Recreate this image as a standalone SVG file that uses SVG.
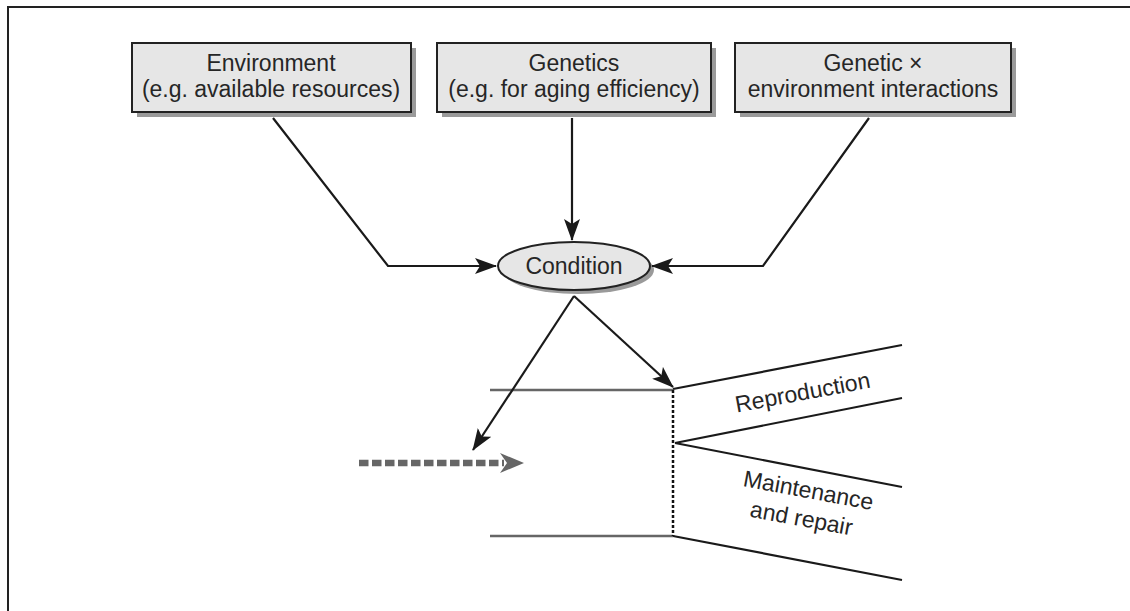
<svg xmlns="http://www.w3.org/2000/svg" width="1130" height="611" viewBox="0 0 1130 611">
  <style>
    .box { fill: #e6e6e6; stroke: #222; stroke-width: 2; }
    .shadow { fill: #9a9a9a; }
    .lbl { font-family: "Liberation Sans", Arial, sans-serif; font-size: 23px; fill: #262626; text-anchor: middle; }
    .conn { fill: none; stroke: #1a1a1a; stroke-width: 2.2; }
    .branch { fill: none; stroke: #1a1a1a; stroke-width: 2.2; }
  </style>
  <defs>
    <marker id="arrow" markerUnits="userSpaceOnUse" markerWidth="24" markerHeight="18" refX="21" refY="8" orient="auto">
      <path d="M0,0 L22,8 L0,16 L5,8 z" fill="#1a1a1a"/>
    </marker>
    <marker id="grayArrow" markerUnits="userSpaceOnUse" markerWidth="26" markerHeight="22" refX="4" refY="10" orient="auto">
      <path d="M0,0 L24,10 L0,20 L7,10 z" fill="#666"/>
    </marker>
  </defs>

  <rect width="1130" height="611" fill="#fff"/>
  <!-- outer frame (left and top edges) -->
  <path d="M8,611 L8,7 L1130,7" fill="none" stroke="#222" stroke-width="2"/>

  <g id="environment">
    <rect class="shadow" x="137" y="48" width="279" height="69"/>
    <rect class="box" x="132" y="43" width="279" height="69"/>
    <text class="lbl" x="271" y="71">Environment</text>
    <text class="lbl" x="271" y="97">(e.g. available resources)</text>
  </g>

  <g id="genetics">
    <rect class="shadow" x="442" y="48" width="274" height="69"/>
    <rect class="box" x="437" y="43" width="274" height="69"/>
    <text class="lbl" x="574" y="71">Genetics</text>
    <text class="lbl" x="574" y="97">(e.g. for aging efficiency)</text>
  </g>

  <g id="gxe">
    <rect class="shadow" x="740" y="48" width="276" height="69"/>
    <rect class="box" x="735" y="43" width="276" height="69"/>
    <text class="lbl" x="873" y="71">Genetic ×</text>
    <text class="lbl" x="873" y="97">environment interactions</text>
  </g>

  <g id="condition">
    <ellipse class="shadow" cx="578" cy="270" rx="76" ry="24"/>
    <ellipse cx="574" cy="266" rx="76" ry="24" fill="#e6e6e6" stroke="#222" stroke-width="2"/>
    <text class="lbl" x="574" y="274">Condition</text>
  </g>

  <g id="allocation">
    <!-- incoming resource pool -->
    <line x1="490" y1="390" x2="673" y2="390" stroke="#666" stroke-width="2.5"/>
    <line x1="490" y1="536" x2="673" y2="536" stroke="#666" stroke-width="2.5"/>
    <line x1="673" y1="390" x2="673" y2="536" stroke="#111" stroke-width="2.5" stroke-dasharray="3,2"/>
    <!-- branches -->
    <line class="branch" x1="673" y1="389" x2="902" y2="345"/>
    <line class="branch" x1="675" y1="443" x2="902" y2="398"/>
    <line class="branch" x1="675" y1="443" x2="902" y2="487"/>
    <line class="branch" x1="673" y1="536" x2="902" y2="580"/>
    <text class="lbl" transform="translate(804,400) rotate(-10.5)">Reproduction</text>
    <text class="lbl" transform="translate(807,498) rotate(10.5)">Maintenance</text>
    <text class="lbl" transform="translate(800,526) rotate(10.5)">and repair</text>
  </g>

  <g id="connectors">
    <path class="conn" d="M273,118 L388,266 L496,266" marker-end="url(#arrow)"/>
    <path class="conn" d="M572,118 L572,240" marker-end="url(#arrow)"/>
    <path class="conn" d="M869,118 L763,266 L652,266" marker-end="url(#arrow)"/>
    <path class="conn" d="M574,296 L473,450" marker-end="url(#arrow)"/>
    <path class="conn" d="M574,296 L673,387" marker-end="url(#arrow)"/>
    <line x1="359" y1="463" x2="504" y2="463" stroke="#666" stroke-width="6.5" stroke-dasharray="9.5,3.5" marker-end="url(#grayArrow)"/>
  </g>
</svg>
